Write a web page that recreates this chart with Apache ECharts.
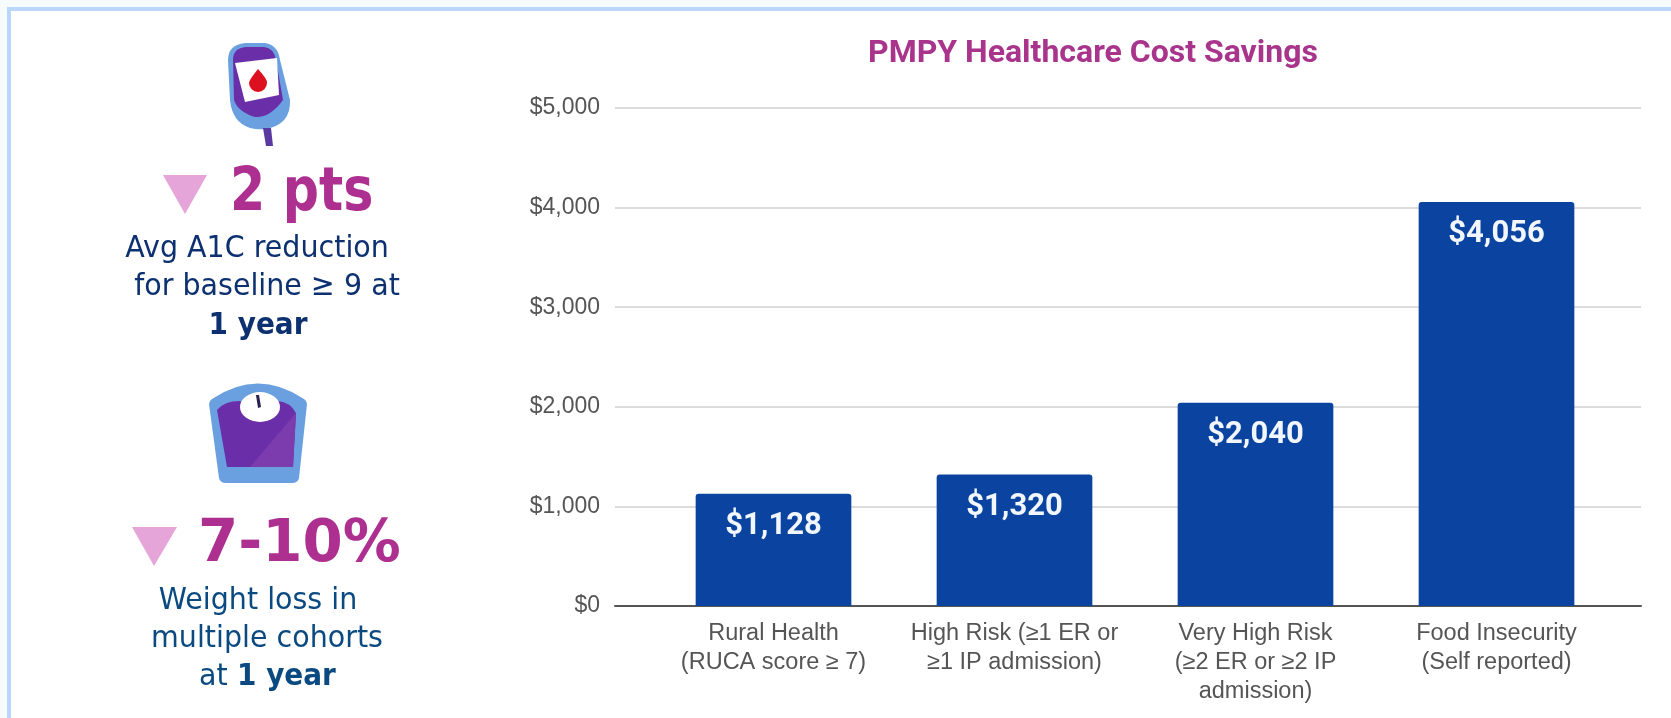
<!DOCTYPE html>
<html>
<head>
<meta charset="utf-8">
<title>PMPY Healthcare Cost Savings</title>
<script src="https://cdn.jsdelivr.net/npm/echarts@6/dist/echarts.min.js"></script>
<style>
  html, body { margin: 0; padding: 0; background: #f6fbff; }
  #chart-box { width: 1671px; height: 718px; }
</style>
</head>
<body>
<div id="chart-box"></div>
<script>
const categories = [
  "Rural Health\n(RUCA score ≥ 7)",
  "High Risk (≥1 ER or\n≥1 IP admission)",
  "Very High Risk\n(≥2 ER or ≥2 IP\nadmission)",
  "Food Insecurity\n(Self reported)",
];
const savings = [1128, 1320, 2040, 4056];
const chartTitle = "PMPY Healthcare Cost Savings";

const a1cValue = "2 pts";
const a1cLines = ["Avg A1C reduction", "for baseline ≥ 9 at", "1 year"];
const weightValue = "7-10%";
const weightLines = ["Weight loss in", "multiple cohorts", "at", "1 year"];

const MAGENTA = "#ad2f90";
const PINK = "#e6a5d8";
const NAVY = "#0d3070";
const TEAL_NAVY = "#0b4a80";
const LABEL_FONT = '"DejaVu Sans", sans-serif';

function money(v) {
  return "$" + v.toLocaleString("en-US");
}

// baseline is easier to read off the picture than the text middle
// squeeze: DejaVu is a bit wider than the original tahoma
function textAt(text, x, baseline, size, weight, fill, squeeze, align) {
  return {
    type: "text",
    z: 5,
    x: x,
    y: baseline - size * 0.346,
    scaleX: squeeze,
    style: {
      text: text,
      x: 0,
      y: 0,
      fill: fill,
      font: weight + " " + size + "px " + LABEL_FONT,
      align: align || "center",
      verticalAlign: "middle",
    },
  };
}

// the graphic component has no plain svg path type, so register each one
let shapeCount = 0;
function shape(path, fill) {
  const name = "iconShape" + shapeCount++;
  echarts.graphic.registerShape(name, echarts.graphic.extendPath(path, {}));
  return { type: name, z: 3, style: { fill: fill } };
}

const glucoseMeter = [
  shape("M228,60 Q228,45 245,43 L265,43 Q278,45 280,60 L290,100 Q291,125 265,129 Q258,130 250,128 Q232,122 230,100 Z", "#6a9fe0"),
  shape("M233,60 Q233,48 246,47 L264,47 Q274,48 276,60 L283,100 Q270,118 255,117 Q238,112 234,100 Z", "#6a2fa8"),
  shape("M235,63 L277,58 L279,95 L245,102 Z", "#ffffff"),
  shape("M258,69 Q268,80 267,83 A9,9 0 1 1 249,83 Q249,80 258,69 Z", "#dd1020"),
  shape("M263,128 L271,128 L273,146 L266,146 Z", "#5a3aa0"),
];

const bathroomScale = [
  shape("M212,399 Q258,368 304,399 Q307,401 307,404 L299,478 Q298,483 292,483 L226,483 Q220,483 219,478 L209,404 Q209,401 212,399 Z", "#6a9fe0"),
  shape("M217,410 Q224,401 240,401 Q258,420 278,401 Q290,402 296,413 L293,467 L227,467 Z", "#6a2fa8"),
  shape("M296,413 L293,467 L250,467 Z", "#7d3cae"),
  shape("M240,407 A20,15 0 1 1 280,407 A20,15 0 1 1 240,407 Z", "#ffffff"),
  shape("M256,395 L259,395 L261,407 L258,408 Z", "#2a2050"),
];

const container = document.getElementById("chart-box");
const chart = echarts.init(container);

const option = {
  animation: false,
  backgroundColor: "#f6fbff",
  title: {
    text: chartTitle,
    left: 1088,
    top: 33,
    textAlign: "center",
    textStyle: {
      color: "#a8348c",
      fontFamily: "Roboto",
      fontWeight: "bold",
      fontSize: 32,
    },
  },
  // grid 0 carries the gridlines, grid 1 is narrower because the bars
  // do not spread over the whole width of the lines
  grid: [
    { left: 615, right: 30, top: 108, bottom: 112 },
    { left: 653, right: 54, top: 108, bottom: 112 },
  ],
  xAxis: [
    {
      type: "value",
      gridIndex: 0,
      min: 0,
      max: 1,
      axisLine: { show: true, lineStyle: { color: "#555", width: 2 } },
      axisTick: { show: false },
      axisLabel: { show: false },
      splitLine: { show: false },
    },
    {
      type: "category",
      gridIndex: 1,
      data: categories,
      axisLine: { show: false },
      axisTick: { show: false },
      axisLabel: {
        interval: 0,
        color: "#555",
        fontFamily: "Liberation Sans",
        fontSize: 23.5,
        lineHeight: 29,
        margin: 13,
      },
    },
  ],
  yAxis: [
    {
      type: "value",
      gridIndex: 0,
      min: 0,
      max: 5000,
      interval: 1000,
      axisLine: { show: false },
      axisTick: { show: false },
      axisLabel: {
        color: "#555",
        fontFamily: "Liberation Sans",
        fontSize: 23,
        margin: 15,
        formatter: money,
      },
      splitLine: { lineStyle: { color: "#dcdcdc", width: 2 } },
    },
    {
      type: "value",
      gridIndex: 1,
      min: 0,
      max: 5000,
      interval: 1000,
      show: false,
    },
  ],
  series: [
    {
      type: "bar",
      xAxisIndex: 1,
      yAxisIndex: 1,
      data: savings,
      barWidth: "64.6%",
      itemStyle: { color: "#0b44a0", borderRadius: [3, 3, 0, 0] },
      label: {
        show: true,
        position: "insideTop",
        distance: 17,
        color: "#f2f6ff",
        fontFamily: "Roboto",
        fontWeight: "bold",
        fontSize: 31,
        formatter: (p) => money(p.value),
      },
    },
  ],
  graphic: {
    elements: [
      { type: "rect", z: -10, shape: { x: 9, y: 9, width: 1700, height: 760 },
        style: { fill: "#ffffff", stroke: "#bcd6fb", lineWidth: 4 } },
      ...glucoseMeter,
      { type: "polygon", z: 3, shape: { points: [[163, 175], [207, 175], [185, 214]] }, style: { fill: PINK } },
      textAt(a1cValue, 230, 215, 61, "bold", MAGENTA, 0.83, "left"),
      textAt(a1cLines[0], 257, 260, 31, "normal", NAVY, 0.92),
      textAt(a1cLines[1], 267, 298, 31, "normal", NAVY, 0.92),
      textAt(a1cLines[2], 258, 337, 31, "bold", NAVY, 0.9),
      ...bathroomScale,
      { type: "polygon", z: 3, shape: { points: [[132, 527], [177, 527], [154, 566]] }, style: { fill: PINK } },
      textAt(weightValue, 198, 566, 59, "bold", MAGENTA, 0.98, "left"),
      textAt(weightLines[0], 258, 612, 31, "normal", TEAL_NAVY, 0.92),
      textAt(weightLines[1], 267, 650, 31, "normal", TEAL_NAVY, 0.92),
      textAt(weightLines[2], 199, 688, 31, "normal", TEAL_NAVY, 0.92, "left"),
      textAt(weightLines[3], 237, 688, 31, "bold", TEAL_NAVY, 0.9, "left"),
    ],
  },
};

chart.setOption(option);
</script>
</body>
</html>
